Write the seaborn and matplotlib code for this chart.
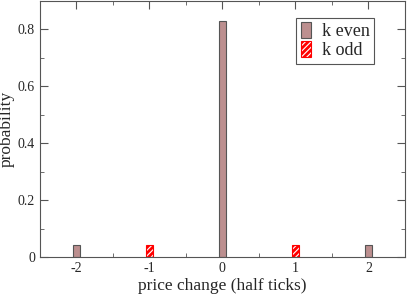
import matplotlib
matplotlib.use("Agg")
import matplotlib.pyplot as plt
import seaborn as sns
import pandas as pd
from matplotlib.patches import Patch
from matplotlib.ticker import MultipleLocator

# price change (half ticks) and probability, split by parity of k
price_change = [-2, -1, 0, 1, 2]
probability = [0.042, 0.042, 0.83, 0.042, 0.042]
parity = ["k even", "k odd", "k even", "k odd", "k even"]

sns.set_style("ticks")
plt.rcParams["font.family"] = ["Liberation Serif", "DejaVu Serif"]
plt.rcParams["hatch.linewidth"] = 2.0

df = pd.DataFrame({"x": price_change, "p": probability, "k": parity})

fig = plt.figure(figsize=(4.07, 2.98), dpi=100)
ax = fig.add_axes([0.098, 0.137, 0.897, 0.86])

even_col = "#bc8f8f"
sns.barplot(data=df, x="x", y="p", hue="k", hue_order=["k even", "k odd"],
            palette={"k even": even_col, "k odd": "white"},
            native_scale=True, dodge=False, width=0.1, legend=False,
            saturation=1, ax=ax)

for c, lab in zip(ax.containers, ["k even", "k odd"]):
    for bar in c:
        bar.set_linewidth(0.8)
        if lab == "k even":
            bar.set_edgecolor("#555555")
        else:
            bar.set_facecolor("white")
            bar.set_edgecolor("red")
            bar.set_hatch("//////")

ax.set_xlim(-2.5, 2.5)
ax.set_ylim(0, 0.9)
ax.set_xticks([-2, -1, 0, 1, 2])
ax.set_xticklabels(["-2", "-1", "0", "1", "2"])
ax.set_yticks([0, 0.2, 0.4, 0.6, 0.8])
ax.set_yticklabels(["0", "0.2", "0.4", "0.6", "0.8"])
ax.xaxis.set_minor_locator(MultipleLocator(0.5))
ax.yaxis.set_minor_locator(MultipleLocator(0.1))
ax.tick_params(which="both", direction="in", top=True, right=True, labelsize=10)
ax.tick_params(which="major", length=6, color="#555555")
ax.tick_params(which="minor", length=3, color="#555555")
for s in ax.spines.values():
    s.set_color("#555555")
ax.set_xlabel("price change (half ticks)", fontsize=12.5, labelpad=2)
ax.set_ylabel("probability", fontsize=12.5, labelpad=2)

handles = [Patch(facecolor=even_col, edgecolor="#555555", linewidth=0.8),
           Patch(facecolor="white", edgecolor="red", hatch="//////", linewidth=0.8)]
leg = ax.legend(handles, ["k even", "k odd"], loc="upper right",
                bbox_to_anchor=(0.915, 0.935), fontsize=13, fancybox=False,
                framealpha=1, edgecolor="#555555", handlelength=0.55,
                handleheight=1.0, handletextpad=0.6, borderpad=0.25,
                borderaxespad=0, labelspacing=0.05)
leg.get_frame().set_linewidth(0.8)

fig.savefig("out.png", dpi=100)
